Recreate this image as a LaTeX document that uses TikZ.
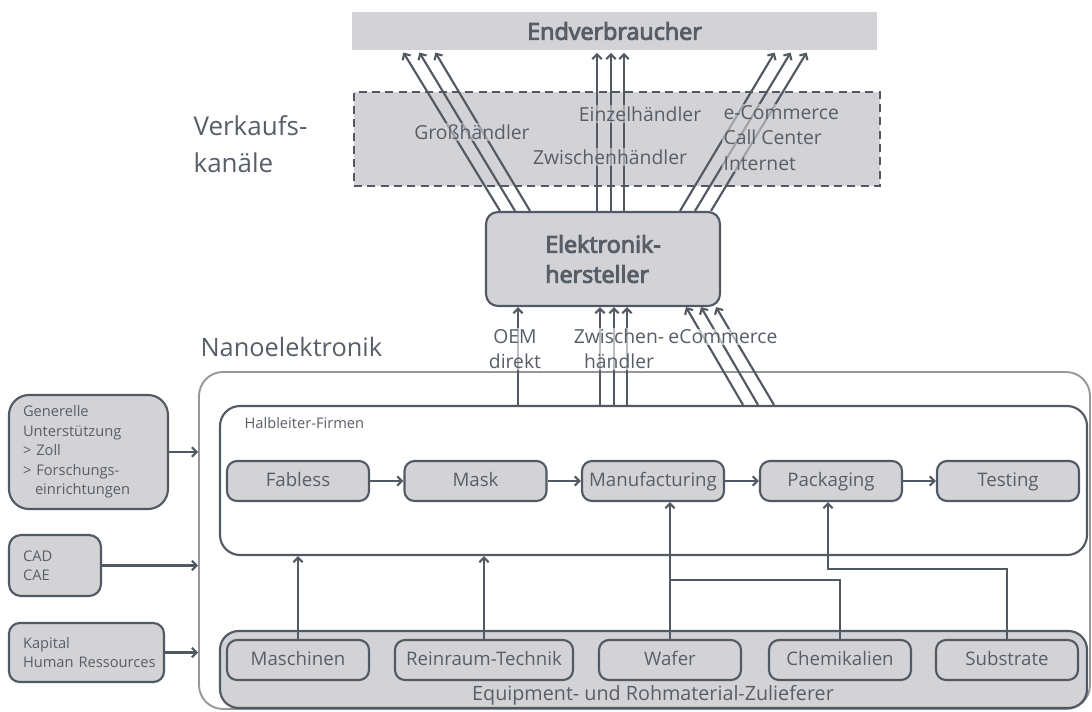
\documentclass[tikz,border=0pt]{standalone}
\usepackage{fontspec}
\setmainfont{Open Sans}
\newfontfamily\medfont[FakeBold=4]{Open Sans}
\usetikzlibrary{arrows.meta}
\definecolor{linegray}{RGB}{82,89,99}
\definecolor{boxgray}{RGB}{211,211,215}
\definecolor{txtgray}{RGB}{88,94,103}
\definecolor{outergray}{RGB}{150,150,155}
\tikzset{
  box/.style={draw=linegray, line width=1.6pt, fill=boxgray, rounded corners=7.5pt, text=txtgray, inner sep=0pt},
  procbox/.style={box, minimum width=106.5pt, minimum height=30pt, text height=10.5pt, text depth=3pt,
    font=\fontsize{14}{16}\selectfont},
  sidebox/.style={box, align=left, font=\fontsize{11}{14.6}\selectfont},
  line/.style={draw=linegray, line width=1.6pt},
  conn/.style={line, -{Straight Barb[length=3.5pt,width=7pt]}},
  lbl/.style={text=txtgray, inner sep=1pt, align=center},
  chlbl/.style={lbl, fill=boxgray, fill opacity=0.6, text opacity=1, font=\fontsize{14.5}{19}\selectfont},
  oemlbl/.style={lbl, fill=white, fill opacity=0.6, text opacity=1, font=\fontsize{14.5}{18.75}\selectfont},
}
\begin{document}
\begin{tikzpicture}[x=0.75pt,y=-0.75pt]
\useasboundingbox (0,0) rectangle (1092,711);
% Endverbraucher und Verkaufskanaele
\node[fill=boxgray, text=txtgray, minimum width=393.75pt, minimum height=28.5pt, inner sep=0pt,
      font=\medfont\fontsize{17.5}{20}\selectfont] (ev) at (614.5,31) {Endverbraucher};
\node[draw=linegray, line width=1.6pt, dash pattern=on 6pt off 4pt, fill=boxgray,
      minimum width=394.5pt, minimum height=70.5pt] (vk) at (617,139) {};
\node[lbl, align=left, anchor=west, font=\fontsize{19.5}{28}\selectfont] (vklbl) at (192,144) {Verkaufs-\\kanäle};
% Elektronikhersteller
\node[box, rounded corners=9pt, minimum width=175.5pt, minimum height=70.5pt, align=left,
      font=\medfont\fontsize{17.5}{22.5}\selectfont] (ek) at (603,259) {Elektronik-\\hersteller};
% Nanoelektronik
\node[draw=outergray, line width=1.4pt, rounded corners=18pt, minimum width=668.25pt,
      minimum height=252.75pt] (nano) at (644.5,540.5) {};
\node[lbl, anchor=west, font=\fontsize{19}{22}\selectfont] (nanolbl) at (199,347) {Nanoelektronik};
\node[draw=linegray, line width=1.6pt, fill=white, rounded corners=15pt, minimum width=650.25pt,
      minimum height=111.75pt] (hl) at (653.5,480.5) {};
\node[lbl, anchor=west, font=\fontsize{11}{13}\selectfont] (hllbl) at (243,423) {Halbleiter-Firmen};
\node[procbox] (fab) at (298,481) {Fabless};
\node[procbox] (mask) at (475.5,481) {Mask};
\node[procbox] (manu) at (653,481) {Manufacturing};
\node[procbox] (pack) at (831,481) {Packaging};
\node[procbox] (test) at (1008,481) {Testing};
% Zulieferer
\node[box, rounded corners=14pt, minimum width=650.25pt, minimum height=57.75pt] (eq) at (653.5,669.5) {};
\node[lbl, font=\fontsize{14.8}{17}\selectfont] (eqlbl) at (653,695) {Equipment- und Rohmaterial-Zulieferer};
\node[procbox] (masch) at (298,660) {Maschinen};
\node[procbox, minimum width=133.5pt] (rein) at (484,660) {Reinraum-Technik};
\node[procbox] (wafer) at (670,660) {Wafer};
\node[procbox] (chem) at (840,660) {Chemikalien};
\node[procbox] (sub) at (1007,660) {Substrate};
% linke Seite
\node[sidebox, rounded corners=15pt, minimum width=119.25pt, minimum height=85.5pt, text width=98.25pt] (gen) at (88.5,452)
  {Generelle\\Unterstützung\\> Zoll\\> Forschungs-\\\hspace*{9pt}einrichtungen};
\node[sidebox, rounded corners=9pt, minimum width=69pt, minimum height=45.75pt, text width=48pt] (cad) at (55,565.5) {CAD\\CAE};
\node[sidebox, rounded corners=8pt, minimum width=116.25pt, minimum height=44.25pt, text width=95.25pt] (kap) at (86.5,652.5)
  {Kapital\\\mbox{Human Ressources}};
\draw[conn] (gen) -- (gen -| nano.west);
\draw[conn] (cad) -- (cad -| nano.west);
\draw[conn] (kap) -- (kap -| nano.west);
% Prozesskette
\draw[conn] (fab) -- (mask);
\draw[conn] (mask) -- (manu);
\draw[conn] (manu) -- (pack);
\draw[conn] (pack) -- (test);
\coordinate (chemjoin) at (670,580);
\coordinate (subturn) at (828,569);
\draw[conn] (masch) -- (masch |- hl.south);
\draw[conn] (rein) -- (rein |- hl.south);
\draw[conn] (wafer) -- (wafer |- manu.south);
\draw[line] (chem.north) |- (chemjoin);
\draw[conn] (sub.north) |- (subturn) -- (subturn |- pack.south);
% Vertriebswege
\foreach \a/\b in {500/402,515/418,530/434,597/597,611/611,624/624,680/776,695/792,711/808}
  \draw[conn, shorten >=2pt] (\a,0 |- ek.north) -- (\b,0 |- ev.south);
\foreach \a/\b in {518/518,600/600,614/614,627/627,743/686,758/701,774/716}
  \draw[conn] (\a,0 |- hl.north) -- (\b,0 |- ek.south);
\node[chlbl] (gross) at (472,132) {Großhändler};
\node[chlbl] (einzel) at (640,114) {Einzelhändler};
\node[chlbl] (zwisch) at (610,157) {Zwischenhändler};
\node[chlbl, align=left, anchor=west] (ecom) at (722,138) {e-Commerce\\Call Center\\Internet};
\node[oemlbl] (oem) at (515,349) {OEM\\direkt};
\node[oemlbl] (zwh) at (619,349) {Zwischen-\\händler};
\node[oemlbl] (ecom2) at (723,337) {eCommerce};
\end{tikzpicture}
\end{document}
